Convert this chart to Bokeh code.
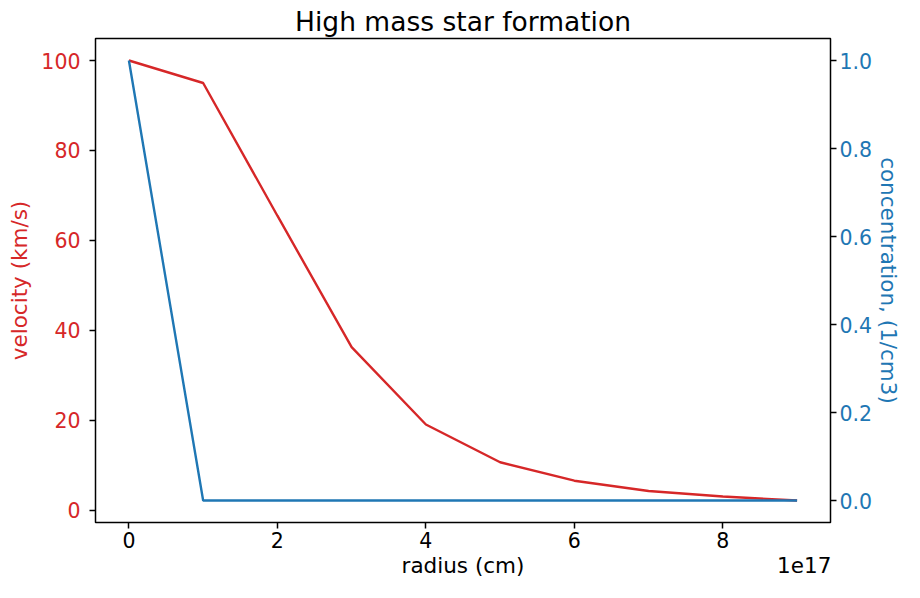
from bokeh.plotting import figure
from bokeh.models import (Range1d, LinearAxis, FixedTicker, CustomJSTickFormatter,
                          PrintfTickFormatter)
from bokeh.embed import file_html
from bokeh.resources import INLINE

# ---- data ----
radius = [0, 1e17, 2e17, 3e17, 4e17, 5e17, 6e17, 7e17, 8e17, 9e17]          # cm
velocity = [100, 95, 65.5, 36.3, 19.1, 10.7, 6.6, 4.3, 3.1, 2.2]            # km/s
concentration = [1.0, 0.0, 0.0, 0.0, 0.0, 0.0, 0.0, 0.0, 0.0, 0.0]          # 1/cm3

x_ticks = [0, 2e17, 4e17, 6e17, 8e17]
v_ticks = [0, 20, 40, 60, 80, 100]
c_ticks = [0.0, 0.2, 0.4, 0.6, 0.8, 1.0]

title_text = "High mass star formation"
x_label = "radius (cm)"
v_label = "velocity (km/s)"
c_label = "concentration, (1/cm3)"
offset_text = "1e17"

RED = "#d62728"
BLUE = "#1f77b4"
FONT = "DejaVu Sans"

W, H = 904, 582
BL, BR, BT, BB = 95, 69, 38, 60
FRAME_W = W - BL - BR


def padded(vals, frac=0.05):
    lo, hi = min(vals), max(vals)
    m = (hi - lo) * frac
    return lo - m, hi + m


xr = padded(radius)
vr = padded(velocity)
cr = padded(concentration)

p = figure(width=W, height=H, output_backend="svg", toolbar_location=None,
           x_range=Range1d(*xr), y_range=Range1d(*vr),
           min_border_left=BL, min_border_right=BR, min_border_top=BT, min_border_bottom=BB)
p.extra_y_ranges = {"conc": Range1d(*cr)}

p.title.text = title_text
p.title.align = "center"
p.title.text_font = FONT
p.title.text_font_size = "26.5px"
p.title.text_font_style = "normal"
p.title.text_color = "black"
p.title.standoff = 3

p.grid.visible = False
p.background_fill_color = "white"
p.border_fill_color = "white"
p.outline_line_color = "black"
p.outline_line_width = 1.5
p.outline_line_alpha = 1.0


def style_axis(ax, color, label):
    ax.axis_label = label
    ax.axis_label_text_font = FONT
    ax.axis_label_text_font_size = "21.5px"
    ax.axis_label_text_font_style = "normal"
    ax.axis_label_text_color = color
    ax.major_label_text_font = FONT
    ax.major_label_text_font_size = "20.5px"
    ax.major_label_text_color = color
    ax.axis_line_color = None
    ax.major_tick_line_color = "black"
    ax.major_tick_line_width = 1.5
    ax.major_tick_out = 6
    ax.major_tick_in = 0
    ax.minor_tick_line_color = None


# bottom axis (ticks and numbers)
xa = p.xaxis[0]
style_axis(xa, "black", None)
xa.ticker = FixedTicker(ticks=x_ticks)
xa.formatter = CustomJSTickFormatter(code="return (tick / 1e17).toFixed(0);")
xa.major_label_standoff = 3

# second bottom row: axis title (centred) and the offset text "1e17" (right end)
label_w = 53  # px, approx. width of "1e17"
x_centre = (xr[0] + xr[1]) / 2
x_offset_pos = xr[1] - (label_w / 2) * (xr[1] - xr[0]) / FRAME_W
xb = LinearAxis()
style_axis(xb, "black", None)
xb.ticker = FixedTicker(ticks=[x_centre, x_offset_pos])
xb.major_label_overrides = {x_centre: x_label, x_offset_pos: offset_text}
xb.major_label_text_font_size = "21.5px"
xb.major_tick_out = 0
xb.major_tick_line_color = None
xb.major_label_standoff = 2
p.add_layout(xb, "below")

# left axis
ya = p.yaxis[0]
style_axis(ya, RED, v_label)
ya.ticker = FixedTicker(ticks=v_ticks)
ya.major_label_standoff = 9
ya.axis_label_standoff = 6

# right axis
ra = LinearAxis(y_range_name="conc")
style_axis(ra, BLUE, c_label)
ra.ticker = FixedTicker(ticks=c_ticks)
ra.formatter = PrintfTickFormatter(format="%.1f")
ra.major_label_standoff = 3
ra.axis_label_standoff = 1
p.add_layout(ra, "right")

p.line(radius, velocity, line_color=RED, line_width=2.4)
p.line(radius, concentration, line_color=BLUE, line_width=2.4, y_range_name="conc")

open("out.html", "w").write(file_html(p, INLINE))
